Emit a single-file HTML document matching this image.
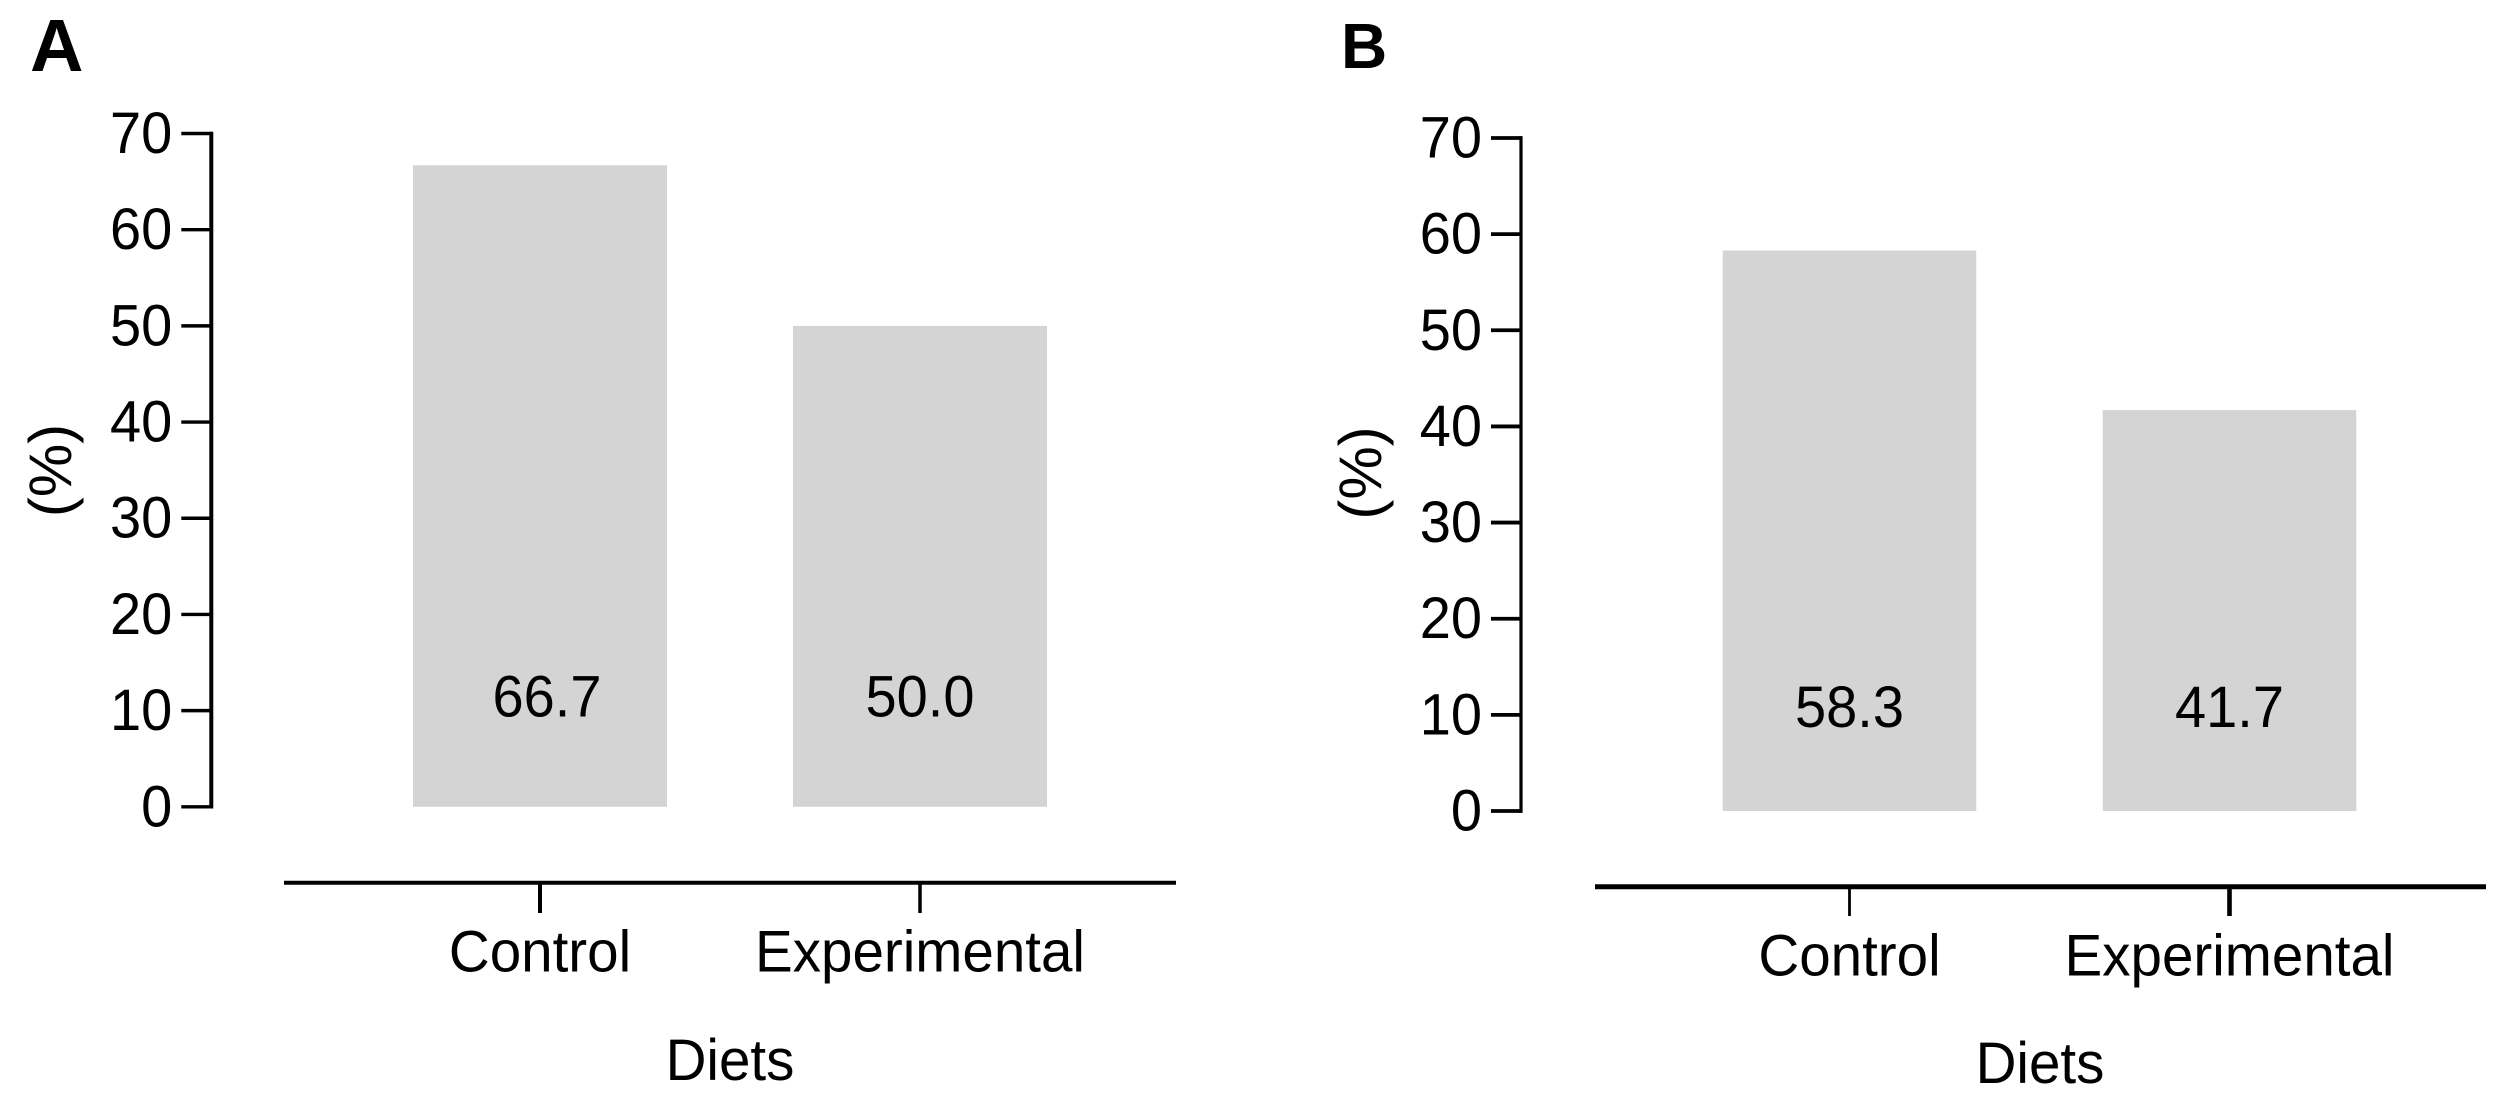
<!DOCTYPE html>
<html lang="en">
<head>
<meta charset="utf-8">
<title>Diets bar charts</title>
<style>
html,body{margin:0;padding:0;background:#fff;}
svg{display:block;}
text{font-family:"Liberation Sans",Arial,sans-serif;fill:#000;}
</style>
</head>
<body>
<svg id="figure" xmlns="http://www.w3.org/2000/svg" width="2517" height="1106" viewBox="0 0 2517 1106"></svg>
<script>
const categories = ["Control", "Experimental"];
const valuesA = [66.7, 50.0];
const valuesB = [58.3, 41.7];
const yTickValues = [0, 10, 20, 30, 40, 50, 60, 70];
const xAxisTitle = "Diets";
const yAxisTitle = "(%)";

const svg = document.getElementById("figure");
const NS = "http://www.w3.org/2000/svg";
const TEXT_SX = 1.01;
const TEXT_SY = 1.045;

function make(parent, tag, attrs, content) {
  const el = document.createElementNS(NS, tag);
  for (const k in attrs) el.setAttribute(k, attrs[k]);
  if (content !== undefined) el.textContent = content;
  parent.appendChild(el);
  return el;
}

function placed(x, y, sx, sy) {
  return "translate(" + x + " " + y + ") scale(" + sx + " " + sy + ")";
}

function drawPanel(cfg, values) {
  const g = make(svg, "g", {});
  
  

  const yScale = v => cfg.y0 - (cfg.y0 - cfg.yTop) * v / cfg.yMax;
  const xScale = i => cfg.x0 + cfg.step * i;

  const letter = make(g, "text", {x: cfg.letterX, y: cfg.letterY, "font-size": cfg.letterSize, "font-weight": "bold"}, cfg.letter);
  
  

  values.forEach((v, i) => {
    const bar = make(g, "rect", {x: xScale(i) - cfg.barW / 2, y: yScale(v), width: cfg.barW, height: yScale(0) - yScale(v), fill: "#d4d4d4"});
    
    

    const label = make(g, "text", {"font-size": 56, "text-anchor": "middle", transform: placed(xScale(i) + (i === 0 ? cfg.valueShift0 : cfg.valueShift1), cfg.valueY, 1, TEXT_SY)}, v.toFixed(1));
    
    
  });

  const yLine = make(g, "line", {x1: cfg.axisX, x2: cfg.axisX, y1: yScale(cfg.yMax) - cfg.tickW / 2, y2: yScale(0) + cfg.tickW / 2, stroke: "#000", "stroke-width": cfg.axisW});
  
  

  yTickValues.forEach(t => {
    const tick = make(g, "line", {x1: cfg.axisX - 30, x2: cfg.axisX, y1: yScale(t), y2: yScale(t), stroke: "#000", "stroke-width": cfg.tickW});
    
    

    const label = make(g, "text", {"font-size": 56, "text-anchor": "end", transform: placed(cfg.axisX - 39, yScale(t) + 19.5, 1, TEXT_SY)}, String(t));
    
    
  });

  const xLine = make(g, "line", {x1: cfg.xAxisLeft, x2: cfg.xAxisRight, y1: cfg.xAxisY, y2: cfg.xAxisY, stroke: "#000", "stroke-width": cfg.xAxisW});
  
  

  categories.forEach((c, i) => {
    const tick = make(g, "line", {x1: xScale(i), x2: xScale(i), y1: cfg.xAxisY, y2: cfg.xTickEnd, stroke: "#000", "stroke-width": i === 0 ? cfg.xTickW0 : cfg.xTickW1});
    
    

    const label = make(g, "text", {"font-size": 56, "text-anchor": "middle", transform: placed(xScale(i), cfg.catY, TEXT_SX, TEXT_SY)}, c);
    
    
  });

  const xTitle = make(g, "text", {"font-size": 56, "text-anchor": "middle", transform: placed(cfg.xTitleX, cfg.xTitleY, TEXT_SX, TEXT_SY)}, xAxisTitle);
  
  

  const yTitle = make(g, "text", {x: 0, y: 0, "font-size": 60, "text-anchor": "middle", transform: "translate(" + cfg.yTitleX + " " + cfg.yTitleY + ") rotate(-90)"}, yAxisTitle);
  
  
}

drawPanel({
  letter: "A", letterX: 30, letterY: 71, letterSize: 74,
  y0: 806.8, yTop: 133.5, yMax: 70, x0: 540, step: 380, barW: 254,
  axisX: 211.3, axisW: 4, tickW: 3.4,
  xAxisLeft: 284, xAxisRight: 1176, xAxisY: 882.7, xAxisW: 4, xTickW0: 4, xTickW1: 3.5, xTickEnd: 913,
  valueY: 716.5, valueShift0: 7, valueShift1: 0,
  catY: 971.5, xTitleX: 730, xTitleY: 1080, yTitleX: 71, yTitleY: 470.5
}, valuesA);

drawPanel({
  letter: "B", letterX: 1341, letterY: 68, letterSize: 64,
  y0: 811, yTop: 138, yMax: 70, x0: 1849.5, step: 380, barW: 253.5,
  axisX: 1521, axisW: 3.2, tickW: 3.8,
  xAxisLeft: 1595, xAxisRight: 2486, xAxisY: 886.7, xAxisW: 5, xTickW0: 2.8, xTickW1: 4.6, xTickEnd: 916,
  valueY: 727, valueShift0: 0, valueShift1: 0,
  catY: 975.5, xTitleX: 2040, xTitleY: 1083, yTitleX: 1381, yTitleY: 473
}, valuesB);
</script>
</body>
</html>
